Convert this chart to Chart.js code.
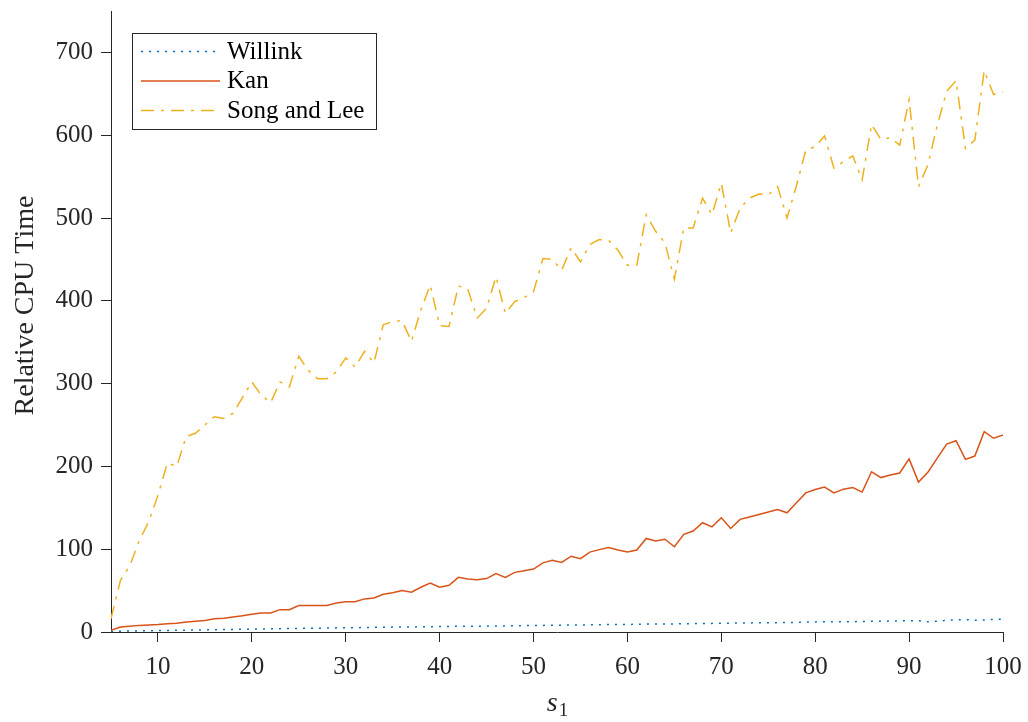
<!DOCTYPE html>
<html>
<head>
<meta charset="utf-8">
<script src="https://cdn.jsdelivr.net/npm/chart.js@4.4.1/dist/chart.umd.min.js"></script>
<style>
  html, body { margin: 0; padding: 0; background: #fff; }
  canvas { display: block; }
</style>
</head>
<body>
<canvas id="cpuChart" width="1028" height="722"></canvas>
<script>
// valores de s1 (eje x)
const s1 = [5, 6, 7, 8, 9, 10, 11, 12, 13, 14, 15, 16, 17, 18, 19, 20,
  21, 22, 23, 24, 25, 26, 27, 28, 29, 30, 31, 32, 33, 34, 35, 36, 37, 38, 39, 40,
  41, 42, 43, 44, 45, 46, 47, 48, 49, 50, 51, 52, 53, 54, 55, 56, 57, 58, 59, 60,
  61, 62, 63, 64, 65, 66, 67, 68, 69, 70, 71, 72, 73, 74, 75, 76, 77, 78, 79, 80,
  81, 82, 83, 84, 85, 86, 87, 88, 89, 90, 91, 92, 93, 94, 95, 96, 97, 98, 99, 100];

// tiempos relativos
const willink = [0.5, 1, 1.2, 1.4, 1.5, 1.7, 1.9, 2, 2.2, 2.4, 2.6, 2.8, 3, 3.1, 3.3, 3.5,
  3.7, 3.8, 4, 4.2, 4.4, 4.5, 4.6, 4.8, 5, 5.1, 5.2, 5.4, 5.6, 5.7, 5.9, 6, 6.1, 6.3, 6.4, 6.5,
  6.6, 7.2, 6.9, 7, 7.1, 7.3, 7.4, 7.5, 7.7, 7.8, 8, 8.2, 8.3, 8.4, 8.5, 8.6, 8.8, 9.1, 9, 9.1,
  9.3, 9.6, 9.6, 9.7, 9.8, 10, 10.1, 10.3, 10.4, 10.6, 10.7, 10.8, 11, 11.1, 11.2, 11.3, 11.4, 11.7, 11.9, 12.2,
  12.3, 12.2, 12.3, 12.5, 12.6, 12.9, 13, 13.2, 13.4, 13.6, 13.5, 12.4, 13, 14, 14.8, 15, 14.2, 14.5, 15.2, 15.3];

const kan = [2, 6, 7, 8, 8.5, 9, 10, 10.5, 12, 13, 14, 16, 16.5, 18, 19.5, 21.5,
  23, 23, 27, 27, 32, 32, 32, 32, 35, 36.5, 36.5, 40, 41, 45.5, 47.5, 50, 48, 54, 59, 54,
  56.5, 66, 64, 63, 64.5, 70.5, 66, 72, 74, 76, 83.5, 86.5, 84, 91.5, 88.5, 96.5, 99.5, 102, 99, 96.5,
  99, 113, 110, 112, 103, 118, 122, 132, 127, 138, 125, 136, 139, 142, 145, 148, 144, 156, 168, 172,
  175, 168, 172.5, 174.5, 169, 193.5, 186.5, 189.5, 192, 209, 181, 193, 210, 227, 231, 208.5, 212.5, 242, 234, 238];

const songLee = [16, 62, 80, 110, 133, 165, 204, 200, 236, 240, 250, 260, 258, 264, 283, 302,
  286, 277, 302, 296, 333, 316, 306, 306, 314, 331, 320, 339, 325, 371, 375, 376, 351, 389, 419, 370,
  369, 418, 414, 379, 391, 429, 385, 399, 404, 411, 451, 450, 437, 464, 447, 468, 474, 473, 461, 443,
  443, 504, 484, 470, 426, 488, 488, 524, 504, 542, 482, 512, 524, 529, 528, 538, 500, 539, 582, 586,
  599, 560, 568, 575, 546, 613, 595, 597, 588, 643, 538, 564, 612, 653, 666, 584, 594, 678, 649, 652];

const xTicks = [10, 20, 30, 40, 50, 60, 70, 80, 90, 100];
const yTicks = [0, 100, 200, 300, 400, 500, 600, 700];

const serif = '"Liberation Serif", "DejaVu Serif", serif';
const axisColor = '#262626';

// Armemos los puntos (x, y) de cada serie
function toPoints(values) {
  return s1.map((s, i) => ({ x: s, y: values[i] }));
}

const series = [
  { label: 'Willink', data: toPoints(willink), borderColor: '#0072BD', borderDash: [2, 6] },
  { label: 'Kan', data: toPoints(kan), borderColor: '#D95319', borderDash: [] },
  { label: 'Song and Lee', data: toPoints(songLee), borderColor: '#EDB120', borderDash: [13, 7, 3, 7] }
];

// Leyenda con recuadro y titulos de los ejes
const extras = {
  id: 'extras',
  afterDraw(chart) {
    const ctx = chart.ctx;
    const area = chart.chartArea;

    // titulo del eje y
    ctx.save();
    ctx.fillStyle = axisColor;
    ctx.font = '28px ' + serif;
    ctx.textAlign = 'center';
    ctx.textBaseline = 'alphabetic';
    ctx.translate(33, (area.top + area.bottom) / 2 - 16);
    ctx.rotate(-Math.PI / 2);
    ctx.fillText('Relative CPU Time', 0, 0);
    ctx.restore();

    // titulo del eje x: s con subindice 1
    ctx.save();
    ctx.fillStyle = axisColor;
    const cx = (area.left + area.right) / 2;
    ctx.font = 'italic 28px ' + serif;
    const sw = ctx.measureText('s').width;
    ctx.font = '19px ' + serif;
    const subw = ctx.measureText('1').width;
    const x0 = cx - (sw + subw) / 2;
    ctx.font = 'italic 28px ' + serif;
    ctx.textBaseline = 'alphabetic';
    ctx.fillText('s', x0, 711);
    ctx.font = '19px ' + serif;
    ctx.fillText('1', x0 + sw + 1, 716);
    ctx.restore();

    // leyenda
    ctx.save();
    ctx.fillStyle = '#ffffff';
    ctx.fillRect(132.5, 33.5, 244, 96);
    ctx.strokeStyle = axisColor;
    ctx.lineWidth = 1;
    ctx.setLineDash([]);
    ctx.strokeRect(132.5, 33.5, 244, 96);
    const rows = [51.5, 81, 110.5];
    chart.data.datasets.forEach((ds, i) => {
      const y = rows[i];
      ctx.strokeStyle = ds.borderColor;
      ctx.lineWidth = 1.5;
      ctx.setLineDash(ds.borderDash);
      ctx.beginPath();
      ctx.moveTo(141, y);
      ctx.lineTo(220, y);
      ctx.stroke();
      ctx.setLineDash([]);
      ctx.fillStyle = '#000000';
      ctx.font = '25px ' + serif;
      ctx.textBaseline = 'alphabetic';
      ctx.fillText(ds.label, 227, y + 7);
    });
    ctx.restore();
  }
};

const ctx = document.getElementById('cpuChart').getContext('2d');
new Chart(ctx, {
  type: 'line',
  data: {
    datasets: series.map(s => ({
      label: s.label,
      data: s.data,
      borderColor: s.borderColor,
      borderDash: s.borderDash,
      borderWidth: 1.5,
      pointRadius: 0,
      tension: 0,
      fill: false
    }))
  },
  options: {
    responsive: false,
    animation: false,
    layout: { padding: { top: 11, right: 25, left: 0, bottom: 0 } },
    plugins: {
      legend: { display: false },
      tooltip: { enabled: false }
    },
    scales: {
      x: {
        type: 'linear',
        min: 5,
        max: 100,
        afterBuildTicks: sc => { sc.ticks = xTicks.map(v => ({ value: v })); },
        afterFit: sc => { sc.height = 90; sc.paddingLeft = 0; sc.paddingRight = 0; },
        grid: { drawOnChartArea: false, drawTicks: true, tickLength: 10, color: axisColor },
        border: { color: axisColor, width: 1 },
        ticks: { color: axisColor, font: { family: serif, size: 25 }, padding: 10, maxRotation: 0 }
      },
      y: {
        type: 'linear',
        min: 0,
        max: 750,
        afterBuildTicks: sc => { sc.ticks = yTicks.map(v => ({ value: v })); },
        afterFit: sc => { sc.width = 111; sc.paddingTop = 0; sc.paddingBottom = 0; },
        grid: { drawOnChartArea: false, drawTicks: true, tickLength: 10, color: axisColor },
        border: { color: axisColor, width: 1 },
        ticks: { color: axisColor, font: { family: serif, size: 25 }, padding: 8 }
      }
    }
  },
  plugins: [extras]
});
</script>
</body>
</html>
